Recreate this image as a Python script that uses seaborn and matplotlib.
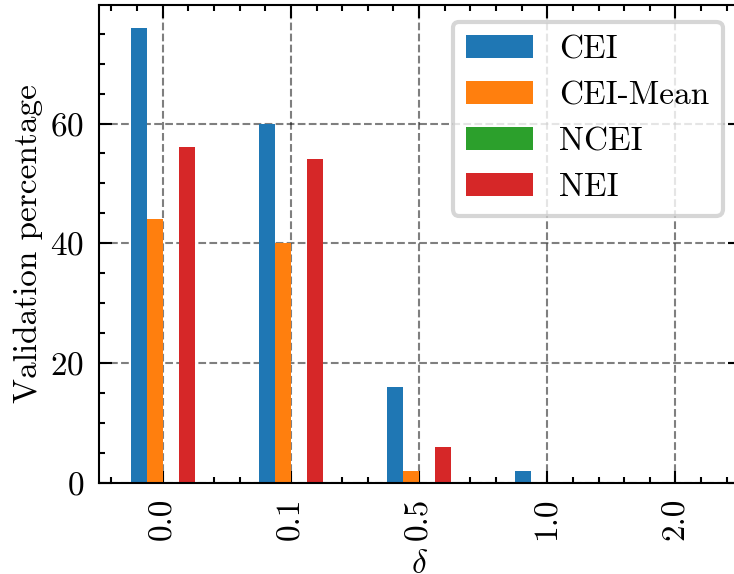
import matplotlib
matplotlib.use("Agg")
import matplotlib.pyplot as plt
from matplotlib.ticker import AutoMinorLocator, MultipleLocator
import pandas as pd
import seaborn as sns

# Validation percentage per method for each delta
deltas = ["0.0", "0.1", "0.5", "1.0", "2.0"]
methods = ["CEI", "CEI-Mean", "NCEI", "NEI"]
cei = [76, 60, 16, 2, 0]
cei_mean = [44, 40, 2, 0, 0]
ncei = [0, 0, 0, 0, 0]
nei = [56, 54, 6, 0, 0]
colors = ["#1f77b4", "#ff7f0e", "#2ca02c", "#d62728"]

series = {"CEI": cei, "CEI-Mean": cei_mean, "NCEI": ncei, "NEI": nei}
df = pd.DataFrame(
    [(d, m, v) for m in methods for d, v in zip(deltas, series[m])],
    columns=["delta", "method", "value"],
)

plt.rcParams.update({
    "font.family": ["cmr10", "DejaVu Serif"],
    "mathtext.fontset": "cm",
    "axes.formatter.use_mathtext": True,
    "font.size": 8,
    "axes.linewidth": 0.5,
    "xtick.major.size": 3,
    "xtick.minor.size": 1.5,
    "ytick.major.size": 3,
    "ytick.minor.size": 1.5,
    "xtick.major.width": 0.5,
    "xtick.minor.width": 0.5,
    "ytick.major.width": 0.5,
    "ytick.minor.width": 0.5,
})

fig = plt.figure(figsize=(734 / 300, 574 / 300), dpi=300)
ax = fig.add_axes([0.1343, 0.1591, 0.8733, 0.8322])

sns.barplot(
    data=df, x="delta", y="value", hue="method",
    order=deltas, hue_order=methods, palette=colors,
    width=0.5, saturation=1, errorbar=None, linewidth=0, ax=ax,
)

ax.set_xlim(-0.5, len(deltas) - 0.5)
ax.set_ylim(0, max(cei) * 1.05)
ax.yaxis.set_major_locator(MultipleLocator(20))
ax.xaxis.set_minor_locator(AutoMinorLocator())
ax.yaxis.set_minor_locator(AutoMinorLocator())
ax.tick_params(which="both", direction="in", top=True, right=True)
ax.tick_params(axis="x", which="major", labelrotation=90)

ax.set_axisbelow(True)
ax.grid(True, which="major", color="black", alpha=0.5, linestyle="--", linewidth=0.5)

ax.set_xlabel(r"$\delta$", labelpad=2.4)
ax.set_ylabel("Validation percentage", labelpad=1.8)

handles, labels = ax.get_legend_handles_labels()
ax.legend(handles, labels, loc="upper right", title=None, frameon=True)

fig.savefig("out.png", dpi=300)
